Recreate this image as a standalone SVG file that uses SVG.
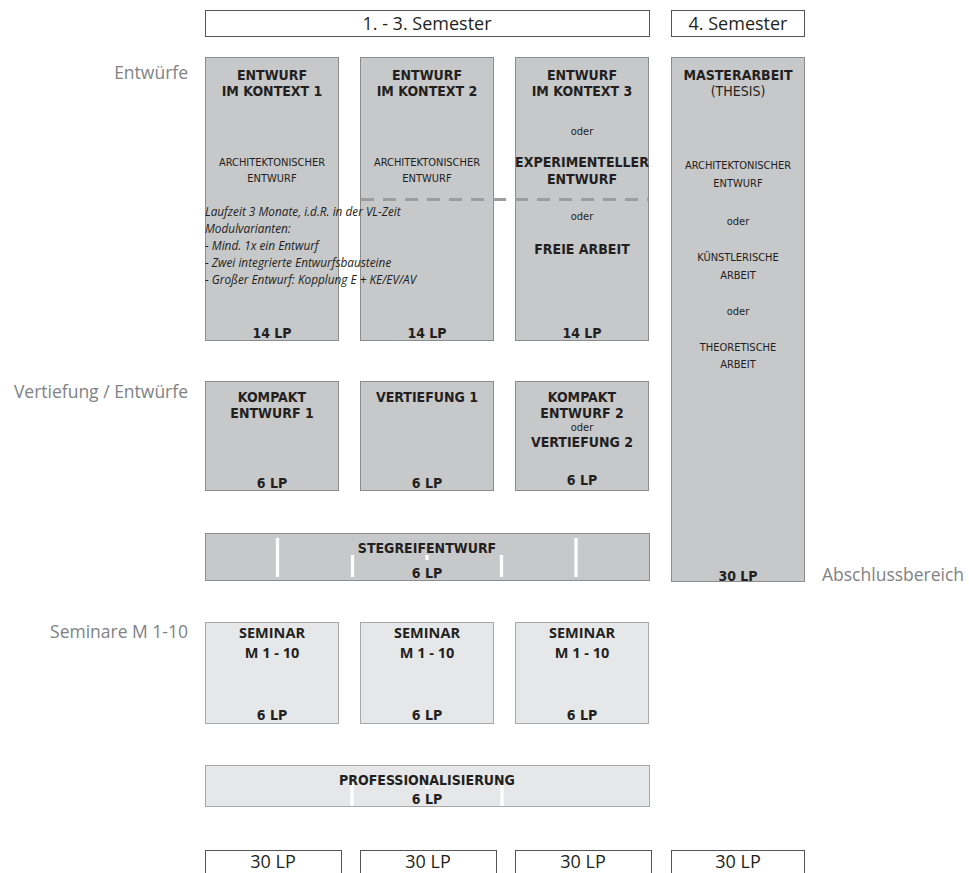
<svg xmlns="http://www.w3.org/2000/svg" width="969" height="873" viewBox="0 0 969 873">
<style>
.hdr{fill:#fff;stroke:#555;stroke-width:1}
.dk{fill:#c7c8ca;stroke:#8c8c8c;stroke-width:1}
.lt{fill:#e6e7e8;stroke:#a8a8a8;stroke-width:1}
.b{font-family:"DejaVu Sans Condensed","Liberation Sans",sans-serif;font-weight:bold;font-size:14px;fill:#231f20;text-anchor:middle}
.s{font-family:"DejaVu Sans Condensed","Liberation Sans",sans-serif;font-size:11px;fill:#231f20;text-anchor:middle}
.r{font-family:"DejaVu Sans Condensed","Liberation Sans",sans-serif;font-size:14px;fill:#231f20;text-anchor:middle}
.it{font-family:"Open Sans","Liberation Sans",sans-serif;font-style:italic;font-size:11.8px;fill:#231f20}
.lbl{font-family:"Open Sans","Liberation Sans",sans-serif;font-size:17.5px;fill:#808285;text-anchor:end}
.h{font-family:"Open Sans","Liberation Sans",sans-serif;font-size:18px;fill:#231f20;text-anchor:middle}
.sem{font-family:"Open Sans","Liberation Sans",sans-serif;font-weight:bold;font-size:14.5px;fill:#231f20;text-anchor:middle}
.tick{stroke:#fff;stroke-width:3.3}
</style>

<g id="header">
<rect class="hdr" x="205.5" y="10.5" width="444" height="26"/>
<text class="h" x="427" y="30">1. - 3. Semester</text>
<rect class="hdr" x="671.5" y="10.5" width="133" height="26"/>
<text class="h" x="738" y="30">4. Semester</text>
</g>

<g id="labels">
<text class="lbl" x="188" y="79">Entwürfe</text>
<text class="lbl" x="188" y="398">Vertiefung / Entwürfe</text>
<text class="lbl" x="188" y="638">Seminare M 1-10</text>
<text class="lbl" x="822" y="581" style="text-anchor:start">Abschlussbereich</text>
</g>

<g id="entwurf1">
<rect class="dk" x="205.5" y="57.5" width="133" height="283"/>
<text class="b" x="272" y="80">ENTWURF</text>
<text class="b" x="272" y="96">IM KONTEXT 1</text>
<text class="s" x="272" y="166">ARCHITEKTONISCHER</text>
<text class="s" x="272" y="182">ENTWURF</text>
<text class="b" x="272" y="338">14 LP</text>
</g>

<g id="entwurf2">
<rect class="dk" x="360.5" y="57.5" width="133" height="283"/>
<text class="b" x="427" y="80">ENTWURF</text>
<text class="b" x="427" y="96">IM KONTEXT 2</text>
<text class="s" x="427" y="166">ARCHITEKTONISCHER</text>
<text class="s" x="427" y="182">ENTWURF</text>
<text class="b" x="427" y="338">14 LP</text>
</g>

<g id="entwurf3">
<rect class="dk" x="515.5" y="57.5" width="133" height="283"/>
<text class="b" x="582" y="80">ENTWURF</text>
<text class="b" x="582" y="96">IM KONTEXT 3</text>
<text class="s" x="582" y="135">oder</text>
<text class="b" x="582" y="167">EXPERIMENTELLER</text>
<text class="b" x="582" y="184">ENTWURF</text>
<text class="s" x="582" y="220">oder</text>
<text class="b" x="582" y="254">FREIE ARBEIT</text>
<text class="b" x="582" y="338">14 LP</text>
</g>

<g id="dashline">
<line x1="361" y1="199.5" x2="648" y2="199.5" stroke="#9d9d9d" stroke-width="3" stroke-dasharray="13,9"/>
</g>

<g id="entwurf-note">
<text class="it" x="205" y="216">Laufzeit 3 Monate, i.d.R. in der VL-Zeit</text>
<text class="it" x="205" y="233">Modulvarianten:</text>
<text class="it" x="205" y="250">- Mind. 1x ein Entwurf</text>
<text class="it" x="205" y="267">- Zwei integrierte Entwurfsbausteine</text>
<text class="it" x="205" y="284">- Großer Entwurf: Kopplung E + KE/EV/AV</text>
</g>

<g id="masterarbeit">
<rect class="dk" x="671.5" y="57.5" width="133" height="524"/>
<text class="b" x="738" y="80">MASTERARBEIT</text>
<text class="r" x="738" y="96">(THESIS)</text>
<text class="s" x="738" y="169">ARCHITEKTONISCHER</text>
<text class="s" x="738" y="187">ENTWURF</text>
<text class="s" x="738" y="225">oder</text>
<text class="s" x="738" y="261">KÜNSTLERISCHE</text>
<text class="s" x="738" y="279">ARBEIT</text>
<text class="s" x="738" y="315">oder</text>
<text class="s" x="738" y="351">THEORETISCHE</text>
<text class="s" x="738" y="368">ARBEIT</text>
<text class="b" x="738" y="581">30 LP</text>
</g>

<g id="kompakt1">
<rect class="dk" x="205.5" y="381.5" width="133" height="109"/>
<text class="b" x="272" y="402">KOMPAKT</text>
<text class="b" x="272" y="418">ENTWURF 1</text>
<text class="b" x="272" y="488">6 LP</text>
</g>

<g id="vertiefung1">
<rect class="dk" x="360.5" y="381.5" width="133" height="109"/>
<text class="b" x="427" y="402">VERTIEFUNG 1</text>
<text class="b" x="427" y="488">6 LP</text>
</g>

<g id="kompakt2">
<rect class="dk" x="515.5" y="381.5" width="133" height="109"/>
<text class="b" x="582" y="402">KOMPAKT</text>
<text class="b" x="582" y="418">ENTWURF 2</text>
<text class="s" x="582" y="431">oder</text>
<text class="b" x="582" y="447">VERTIEFUNG 2</text>
<text class="b" x="582" y="485">6 LP</text>
</g>

<g id="stegreif">
<rect class="dk" x="205.5" y="533.5" width="444" height="47"/>
<line class="tick" x1="277.5" y1="538" x2="277.5" y2="577"/>
<line class="tick" x1="352.5" y1="555" x2="352.5" y2="577"/>
<line class="tick" x1="427" y1="555" x2="427" y2="560"/>
<line class="tick" x1="501.5" y1="555" x2="501.5" y2="577"/>
<line class="tick" x1="576" y1="538" x2="576" y2="577"/>
<text class="b" x="427" y="553">STEGREIFENTWURF</text>
<text class="b" x="427" y="578">6 LP</text>
</g>

<g id="seminar1">
<rect class="lt" x="205.5" y="622.5" width="133" height="101"/>
<text class="sem" x="272" y="638">SEMINAR</text>
<text class="sem" x="272" y="658">M 1 - 10</text>
<text class="b" x="272" y="720">6 LP</text>
</g>

<g id="seminar2">
<rect class="lt" x="360.5" y="622.5" width="133" height="101"/>
<text class="sem" x="427" y="638">SEMINAR</text>
<text class="sem" x="427" y="658">M 1 - 10</text>
<text class="b" x="427" y="720">6 LP</text>
</g>

<g id="seminar3">
<rect class="lt" x="515.5" y="622.5" width="133" height="101"/>
<text class="sem" x="582" y="638">SEMINAR</text>
<text class="sem" x="582" y="658">M 1 - 10</text>
<text class="b" x="582" y="720">6 LP</text>
</g>

<g id="professionalisierung">
<rect class="lt" x="205.5" y="765.5" width="444" height="41"/>
<line class="tick" x1="352" y1="783" x2="352" y2="806"/>
<line class="tick" x1="427" y1="785" x2="427" y2="789"/>
<line class="tick" x1="502" y1="783" x2="502" y2="806"/>
<text class="b" x="427" y="785">PROFESSIONALISIERUNG</text>
<text class="b" x="427" y="804">6 LP</text>
</g>

<g id="totals">
<rect class="hdr" x="205.5" y="850.5" width="136" height="30"/>
<text class="h" x="273" y="868">30 LP</text>
<rect class="hdr" x="360.5" y="850.5" width="136" height="30"/>
<text class="h" x="428" y="868">30 LP</text>
<rect class="hdr" x="515.5" y="850.5" width="136" height="30"/>
<text class="h" x="583" y="868">30 LP</text>
<rect class="hdr" x="671.5" y="850.5" width="133" height="30"/>
<text class="h" x="738" y="868">30 LP</text>
</g>
</svg>
